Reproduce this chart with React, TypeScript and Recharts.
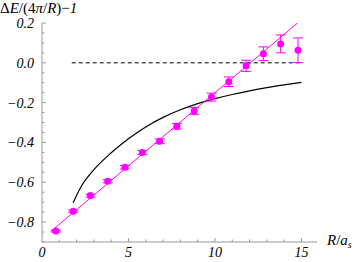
import React from "react";
import { ComposedChart, Line, Scatter, ErrorBar, XAxis, YAxis } from "recharts";

// lattice points: separation R/a_s, energy ratio, error
const rVals = [0.8, 1.8, 2.8, 3.8, 4.8, 5.8, 6.8, 7.8, 8.8, 9.8, 10.8, 11.8, 12.8, 13.8, 14.8];
const eVals = [-0.845, -0.745, -0.667, -0.595, -0.524, -0.45, -0.394, -0.319, -0.242, -0.172, -0.095, -0.015, 0.046, 0.095, 0.063];
const eErr = [0.005, 0.006, 0.007, 0.008, 0.009, 0.01, 0.012, 0.014, 0.017, 0.02, 0.024, 0.028, 0.034, 0.045, 0.062];

// linear fit endpoints (magenta)
const fitX = [0.5, 14.8];
const fitY = [-0.848, 0.202];

// black curve
const curveX = [1.8, 2.25, 3, 4, 5, 6, 7, 8, 9, 10, 11, 12, 13, 14, 15];
const curveY = [-0.703, -0.624, -0.537, -0.452, -0.381, -0.322, -0.274, -0.236, -0.205, -0.18, -0.159, -0.141, -0.125, -0.111, -0.098];

// dashed zero line
const zeroX = [1.72, 14.96];
const zeroY = [0, 0];

const xTicks = [0, 1, 2, 3, 4, 5, 6, 7, 8, 9, 10, 11, 12, 13, 14, 15];
const xMajor = [0, 5, 10, 15];
const yTicks = [-0.9, -0.85, -0.8, -0.75, -0.7, -0.65, -0.6, -0.55, -0.5, -0.45, -0.4, -0.35, -0.3, -0.25, -0.2, -0.15, -0.1, -0.05, 0, 0.05, 0.1, 0.15, 0.2];
const yMajor = [-0.8, -0.6, -0.4, -0.2, 0, 0.2];

const points = rVals.map((x, i) => ({ x, y: eVals[i], err: eErr[i] }));
const fit = fitX.map((x, i) => ({ x, y: fitY[i] }));
const curve = curveX.map((x, i) => ({ x, y: curveY[i] }));
const zero = zeroX.map((x, i) => ({ x, y: zeroY[i] }));

const MAG = "#ff00ff";
const AXIS = "#999999";
const FONT = "'Liberation Serif', 'DejaVu Serif', serif";

const isMajor = (list: number[], v: number) => list.some((m) => Math.abs(m - v) < 1e-6);

const fmtY = (v: number) => {
  const s = Math.abs(v).toFixed(1);
  return v < -1e-9 ? "\u2212" + s : s;
};

function YTick(props: any) {
  const { x, y, payload } = props;
  const major = isMajor(yMajor, payload.value);
  return (
    <g>
      <line x1={x} x2={x + (major ? 4 : 2.5)} y1={y} y2={y} stroke={AXIS} strokeWidth={1} />
      {major && (
        <text x={x - 8} y={y} dy="0.35em" textAnchor="end" fontFamily={FONT} fontStyle="italic" fontSize={14} fill="#000">
          {fmtY(payload.value)}
        </text>
      )}
    </g>
  );
}

function XTick(props: any) {
  const { x, y, payload } = props;
  const major = isMajor(xMajor, payload.value);
  return (
    <g>
      {payload.value !== 0 && (
        <line x1={x} x2={x} y1={y} y2={y - (major ? 4 : 2.5)} stroke={AXIS} strokeWidth={1} />
      )}
      {major && (
        <text x={x} y={y + 15} textAnchor="middle" fontFamily={FONT} fontStyle="italic" fontSize={14} fill="#000">
          {payload.value}
        </text>
      )}
    </g>
  );
}

const Dot = (props: any) => <circle cx={props.cx} cy={props.cy} r={3.5} fill={MAG} />;

export default function App() {
  return (
    <div style={{ position: "absolute", left: 0, top: 0, width: 354, height: 262, background: "#fff" }}>
      <ComposedChart width={354} height={262} margin={{ top: 23, right: 37, bottom: 0, left: 0 }}>
        <XAxis
          dataKey="x"
          type="number"
          domain={[0, 15.9]}
          ticks={xTicks}
          interval={0}
          tickSize={0}
          tickMargin={0}
          height={20}
          axisLine={{ stroke: AXIS }}
          tickLine={false}
          tick={<XTick />}
          allowDataOverflow
        />
        <YAxis
          dataKey="y"
          type="number"
          domain={[-0.9, 0.2]}
          ticks={yTicks}
          interval={0}
          tickSize={0}
          tickMargin={0}
          width={42}
          axisLine={{ stroke: AXIS }}
          tickLine={false}
          tick={<YTick />}
          allowDataOverflow
        />
        <Line data={zero} dataKey="y" stroke="#000" strokeWidth={1} strokeDasharray="4 3" dot={false} isAnimationActive={false} />
        <Line data={curve} dataKey="y" type="monotone" stroke="#000" strokeWidth={1.2} dot={false} isAnimationActive={false} />
        <Line data={fit} dataKey="y" stroke={MAG} strokeWidth={1} dot={false} isAnimationActive={false} />
        <Scatter data={points} dataKey="y" shape={<Dot />} isAnimationActive={false}>
          <ErrorBar dataKey="err" direction="y" width={5} stroke={MAG} strokeWidth={1} isAnimationActive={false} />
        </Scatter>
      </ComposedChart>
      <div style={{ position: "absolute", left: 0, top: 0, fontFamily: FONT, fontSize: 15, lineHeight: "16px", whiteSpace: "nowrap" }}>
        <span>Δ</span>
        <i>E</i>
        <span>/(4</span>
        <i>π</i>
        <span>/</span>
        <i>R</i>
        <span>)−</span>
        <i>1</i>
      </div>
      <div style={{ position: "absolute", left: 327, top: 232, fontFamily: FONT, fontSize: 15, lineHeight: "16px", whiteSpace: "nowrap" }}>
        <i>R</i>
        <span>/</span>
        <i>a</i>
        <sub style={{ fontSize: 10, fontStyle: "italic", verticalAlign: "-3px" }}>s</sub>
      </div>
    </div>
  );
}
